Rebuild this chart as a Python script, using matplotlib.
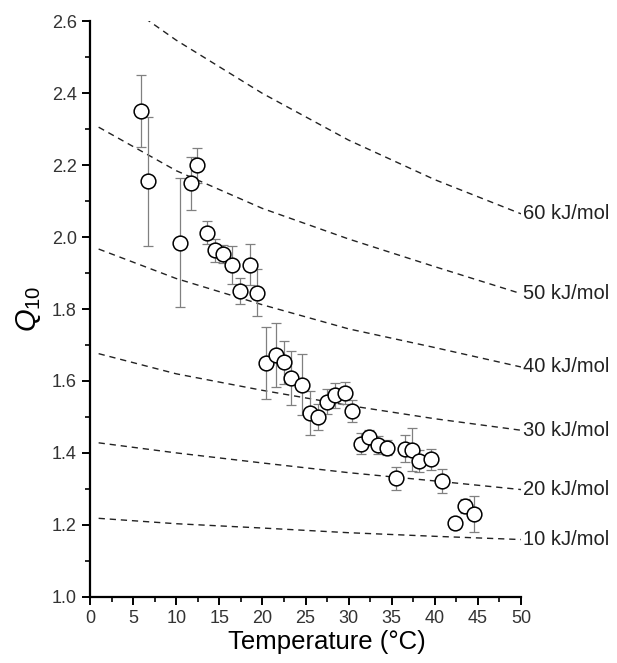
import numpy as np
import matplotlib
matplotlib.use("Agg")
import matplotlib.pyplot as plt
from matplotlib.ticker import MultipleLocator

plt.rcParams['font.family'] = ['Liberation Sans', 'DejaVu Sans']
plt.rcParams['mathtext.fontset'] = 'custom'
plt.rcParams['mathtext.it'] = 'Liberation Sans:italic'
plt.rcParams['mathtext.rm'] = 'Liberation Sans'

# Measured Q10 vs temperature
temp = [5.9, 6.7, 10.4, 11.7, 12.4, 13.6, 14.5, 15.4, 16.5, 17.4, 18.6, 19.4,
        20.4, 21.6, 22.5, 23.3, 24.6, 25.5, 26.4, 27.5, 28.4, 29.6, 30.4, 31.4,
        32.4, 33.4, 34.5, 35.5, 36.5, 37.4, 38.2, 39.6, 40.8, 42.4, 43.5, 44.6]
q10 = [2.35, 2.155, 1.985, 2.15, 2.20, 2.012, 1.963, 1.952, 1.923, 1.85, 1.924, 1.846,
       1.651, 1.672, 1.652, 1.609, 1.59, 1.511, 1.50, 1.542, 1.56, 1.567, 1.517, 1.426,
       1.443, 1.421, 1.415, 1.329, 1.412, 1.409, 1.378, 1.382, 1.322, 1.204, 1.253, 1.23]
q10_err = [0.10, 0.18, 0.18, 0.073, 0.048, 0.032, 0.032, 0.025, 0.052, 0.037, 0.056, 0.066,
           0.10, 0.09, 0.06, 0.075, 0.085, 0.06, 0.035, 0.035, 0.035, 0.03, 0.03, 0.03,
           0.02, 0.025, 0.02, 0.033, 0.037, 0.06, 0.03, 0.03, 0.033, 0.015, 0.02, 0.05]

# Reference curves for constant activation energy
ref_temp = [1, 10, 20, 30, 40, 50]
ref_10 = [1.218, 1.203, 1.191, 1.178, 1.168, 1.159]
ref_20 = [1.428, 1.400, 1.372, 1.345, 1.322, 1.298]
ref_30 = [1.676, 1.620, 1.574, 1.532, 1.495, 1.463]
ref_40 = [1.967, 1.885, 1.812, 1.745, 1.693, 1.639]
ref_50 = [2.306, 2.185, 2.080, 1.995, 1.918, 1.843]
ref_60 = [2.700, 2.548, 2.400, 2.270, 2.160, 2.065]
ref_labels = ['10 kJ/mol', '20 kJ/mol', '30 kJ/mol', '40 kJ/mol', '50 kJ/mol', '60 kJ/mol']

fig = plt.figure(figsize=(6.17, 6.63), dpi=100)
ax = fig.add_axes([0.1459, 0.1000, 0.6985, 0.8676])

for ys, lab in zip([ref_10, ref_20, ref_30, ref_40, ref_50, ref_60], ref_labels):
    ax.plot(ref_temp, ys, color='#222222', lw=1.0, dashes=(4.5, 3.5))
    ax.text(ref_temp[-1] + 0.2, ys[-1], lab, fontsize=14.5, color='#222222',
            ha='left', va='center', clip_on=False)

ax.errorbar(temp, q10, yerr=q10_err, fmt='none', ecolor='#808080', elinewidth=0.9,
            capsize=3.5, capthick=0.9, zorder=3)
ax.plot(temp, q10, 'o', ms=10.6, mfc='white', mec='black', mew=1.1, zorder=4)

ax.set_xlim(0, 50)
ax.set_ylim(1.0, 2.6)
ax.xaxis.set_major_locator(MultipleLocator(5))
ax.xaxis.set_minor_locator(MultipleLocator(2.5))
ax.yaxis.set_major_locator(MultipleLocator(0.2))
ax.yaxis.set_minor_locator(MultipleLocator(0.1))
ax.yaxis.set_major_formatter(matplotlib.ticker.FormatStrFormatter('%.1f'))

for s in ['top', 'right']:
    ax.spines[s].set_visible(False)
for s in ['left', 'bottom']:
    ax.spines[s].set_linewidth(1.6)
ax.tick_params(which='major', direction='out', length=6, width=1.4,
               labelsize=13, labelcolor='#333333')
ax.tick_params(which='minor', direction='out', length=3.5, width=1.2)

ax.set_xlabel('Temperature (\u00b0C)', fontsize=18.5)
ax.xaxis.set_label_coords(0.55, -0.058)
ax.set_ylabel(r'$Q_{\mathrm{10}}$', fontsize=21, labelpad=6)

fig.savefig('out.png', dpi=100)
